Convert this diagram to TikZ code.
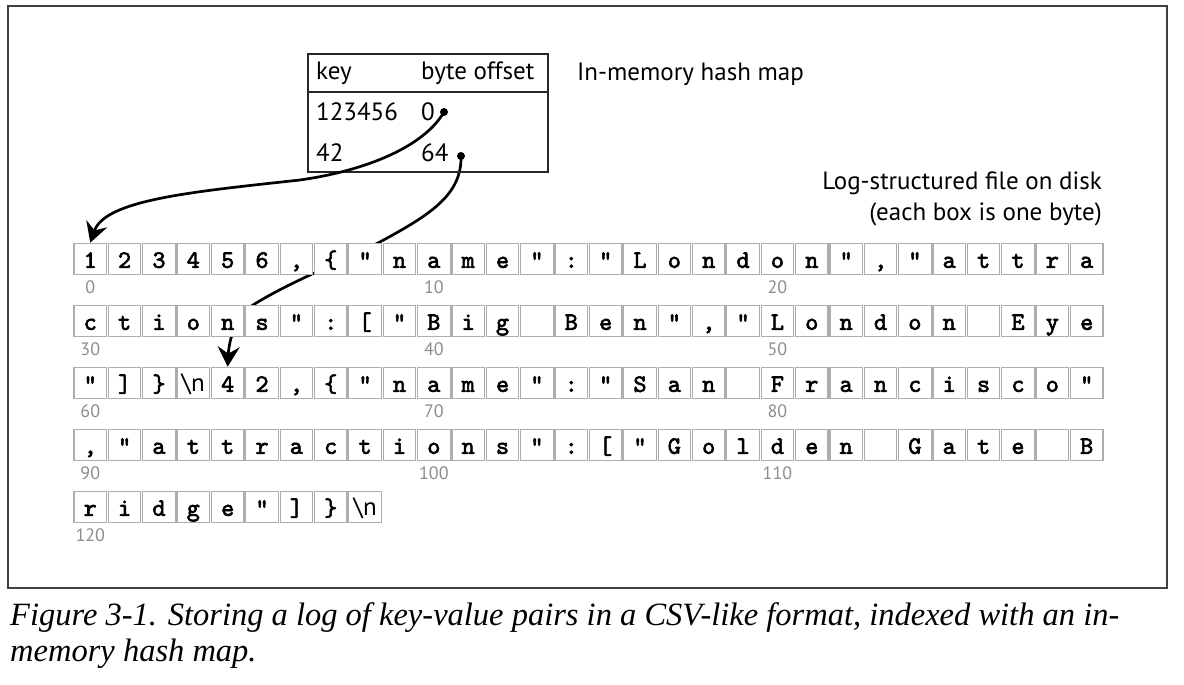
\documentclass[tikz,border=0pt]{standalone}
\usepackage{fontspec}
\setsansfont{PT Sans}
\newfontfamily\capfont{Liberation Serif}
\newfontfamily\bytefont{lmmono10-regular.otf}[FakeBold=2.5]
\usepackage[svgnames]{xcolor}
\usepackage{tikz}
\usetikzlibrary{arrows.meta}
\usetikzlibrary{backgrounds}

\newcommand{\bsn}{{\sffamily\mdseries\textbackslash n}}
\newcommand{\byterow}[2]{%
    \foreach \ch [count=\k from 0] in {#2}
        \node[bytebox] (b#1-\k) at ({\bx+\k*\pitch}, {\by+(#1-1)*\rowgap}) {\ch};%
}

\begin{document}
\begin{tikzpicture}[x=1pt, y=-1pt,
        bytebox/.style={draw=black!32, line width=1.2pt, fill=white, minimum width=32.5pt, minimum height=31pt,
                        inner sep=0pt, text height=18pt, text depth=0pt,
                        font=\fontsize{25pt}{25pt}\selectfont\bytefont},
        idxlabel/.style={anchor=base, inner sep=0pt, text=black!45, font=\fontsize{18pt}{18pt}\selectfont\sffamily},
        maplabel/.style={inner sep=0pt, font=\fontsize{25pt}{25pt}\selectfont\sffamily},
        ptrdot/.style={circle, fill=black, inner sep=0pt, minimum size=8pt},
        ptr/.style={line width=2.7pt, -{Stealth[length=20pt, width=22pt, inset=7pt]}},
        figcaption/.style={anchor=base west, inner sep=0pt, font=\fontsize{32.5pt}{32.5pt}\selectfont\capfont\itshape}]
        \def\bx{90.25}
        \def\by{258.8}
        \def\pitch{34.36}
        \def\rowgap{62}

        \useasboundingbox (0,0) rectangle (1184,685);
        \draw[line width=1.5pt, black!75] (8,6) rectangle (1167,588);

        % Hash map
        \draw[line width=1.3pt, black!85] (308,54) rectangle (548,172);
        \draw[line width=1.3pt, black!85] (308,92) -- (548,92);
        \node[maplabel, anchor=base west] (keyhead) at (316,80) {key};
        \node[maplabel, anchor=base west] (offhead) at (421,80) {byte offset};
        \node[maplabel, anchor=base west] (key1) at (316,121) {123456};
        \node[maplabel, anchor=base west] (off1) at (421,121) {0};
        \node[maplabel, anchor=base west] (key2) at (316,161) {42};
        \node[maplabel, anchor=base west] (off2) at (421,161) {64};
        \node[ptrdot] (p0) at (444,112) {};
        \node[ptrdot] (p64) at (461,156) {};
        \node[maplabel, anchor=base west] (maptitle) at (577,81) {In-memory hash map};

        % File on disk
        \node[maplabel, anchor=base east] (logtitle) at (1102,189) {Log-structured file on disk};
        \node[maplabel, anchor=base east] (lognote) at (1102,220) {(each box is one byte)};

        \byterow{1}{1,2,3,4,5,6,{,},\{,",n,a,m,e,",:,",L,o,n,d,o,n,",{,},",a,t,t,r,a}
        \byterow{2}{c,t,i,o,n,s,",:,[,",B,i,g,{},B,e,n,",{,},",L,o,n,d,o,n,{},E,y,e}
        \byterow{3}{",],\},\bsn,4,2,{,},\{,",n,a,m,e,",:,",S,a,n,{},F,r,a,n,c,i,s,c,o,"}
        \byterow{4}{{,},",a,t,t,r,a,c,t,i,o,n,s,",:,[,",G,o,l,d,e,n,{},G,a,t,e,{},B}
        \byterow{5}{r,i,d,g,e,",],\},\bsn}

        % Offsets
        \foreach \r in {1,...,4}
            \foreach \k in {0,10,20} {
                \pgfmathtruncatemacro{\idx}{(\r-1)*30+\k}
                \node[idxlabel, yshift=-19pt] (n\r-\k) at (b\r-\k.south) {\idx};
            }
        \node[idxlabel, yshift=-19pt] (n5-0) at (b5-0.south) {120};

        % Pointers
        \draw[ptr] (p0.center) .. controls (425,145) and (370,170) .. (300,180)
                   .. controls (190,192) and (105,200) .. (b1-0.north);
        \begin{scope}[on background layer]
            \draw[ptr] (p64.center) .. controls (462,195) and (430,215) .. (378,243)
                       .. controls (330,267) and (290,282) .. (253,305)
                       .. controls (235,318) and (229,340) .. (b3-4.north);
        \end{scope}

        \node[figcaption] (cap1) at (10,625) {Figure 3-1. Storing a log of key-value pairs in a CSV-like format, indexed with an in-};
        \node[figcaption] (cap2) at (10,661) {memory hash map.};
\end{tikzpicture}
\end{document}
